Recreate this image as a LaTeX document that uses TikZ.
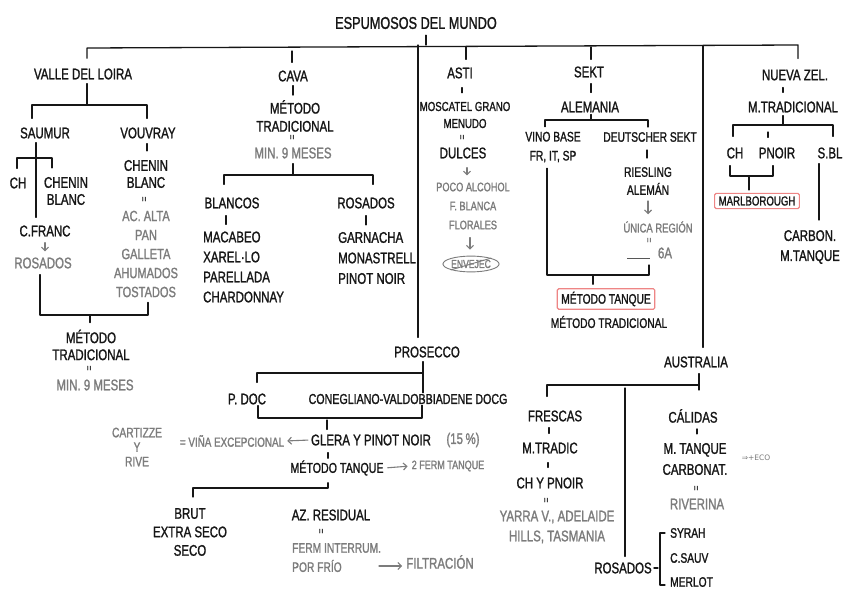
\documentclass[tikz,border=0pt]{standalone}
\usepackage{fontspec}
\usetikzlibrary{shapes.geometric,arrows.meta}
\newfontfamily\hand[FakeStretch=0.745,FakeBold=1.3]{Liberation Sans}
\newfontfamily\dvs{DejaVu Sans}
\newcommand\hfs[2]{\hand\fontsize{\fpeval{#1*1.1}}{#2}\selectfont}
\definecolor{ink}{HTML}{161616}
\definecolor{gtx}{HTML}{7C7C7C}
\definecolor{pinkred}{HTML}{EE8585}
\tikzset{
 t/.style={font=\hfs{14}{17}, text=ink, inner sep=1pt, align=center},
 g/.style={t, text=gtx},
 sm/.style={font=\hfs{12.5}{17}},
 ln/.style={draw=ink, line width=1.3pt, line cap=round, line join=round},
 garr/.style={draw=gtx, line width=1.1pt, line cap=round, -{Straight Barb[length=3.5pt,width=7pt]}, shorten <=6pt, shorten >=6pt},
 eqm/.style={font=\hfs{10}{11}, text=ink!85, rotate=90, inner sep=0pt},
 redbox/.style={draw=pinkred, line width=1.1pt, rounded corners=1.5pt, inner xsep=4pt, inner ysep=3pt},
}
\begin{document}
\begin{tikzpicture}[x=1pt,y=-1pt]
\fill[white] (0,0) rectangle (848,599);
\useasboundingbox (0,0) rectangle (848,599);

% ================= top =================
\node[t,font=\hfs{15.5}{17}] (title) at (416,23) {ESPUMOSOS DEL MUNDO};
\coordinate (tT) at (426,45);
\coordinate (bL) at (87,48);
\coordinate (bR) at (798,45);
\coordinate (bC) at (292,51);
\coordinate (bA) at (466,47);
\coordinate (bS) at (591,47);
\coordinate (bP) at (418,45);
\coordinate (bU) at (703,46);
\draw[ln,shorten <=5pt] (title.south -| tT) -- (tT);

\node[t] (loira) at (83,74) {VALLE DEL LOIRA};
\node[t] (cava) at (293,76) {CAVA};
\node[t] (asti) at (460,73) {ASTI};
\node[t] (sekt) at (589,72) {SEKT};
\node[t] (nz) at (795,75) {NUEVA ZEL.};

\draw[ln,shorten <=9pt,shorten >=10pt] (loira.north -| bL) -- (bL) -- (bR) -- (nz.north -| bR);
\draw[ln,shorten >=7pt] (bC) -- (cava.north -| bC);
\draw[ln,shorten >=7pt] (bA) -- (asti.north -| bA);
\draw[ln,shorten >=6pt] (bS) -- (sekt.north -| bS);

% ================= Valle del Loira =================
\node[t] (saumur) at (45,133) {SAUMUR};
\node[t] (vouvray) at (148,133) {VOUVRAY};
\coordinate (lj) at (87,105);
\coordinate (lsl) at (32,105);
\coordinate (lsr) at (147,105);
\draw[ln,shorten <=3pt] (loira.south -| lj) -- (lj);
\draw[ln,shorten <=8pt,shorten >=8pt] (saumur.north -| lsl) -- (lsl) -- (lsr) -- (vouvray.north -| lsr);

\node[t] (ch) at (18,183) {CH};
\node[t] (chb) at (66,191) {CHENIN\\BLANC};
\node[t] (cfr) at (45,231) {C.FRANC};
\node[g] (rosl) at (43,263) {ROSADOS};
\coordinate (sv) at (36,143);
\coordinate (cj1) at (17,158);
\coordinate (cj2) at (52,158);
\draw[ln,shorten <=3pt,shorten >=7pt] (saumur.south -| sv) -- (cfr.north -| sv);
\draw[ln,shorten <=8pt,shorten >=8pt] (ch.north -| cj1) -- (cj1) -- (cj2) -- (chb.north -| cj2);
\draw[garr,shorten <=5pt,shorten >=5pt] (cfr.south) -- (cfr.south |- rosl.north);

\node[t] (vchb) at (146,174) {CHENIN\\BLANC};
\draw[ln,shorten <=4pt,shorten >=8pt] (vouvray.south -| lsr) -- (vchb.north -| lsr);
\node[eqm] (veq) at (145,199) {=};
\node[g,font=\hfs{13.5}{19}] (vgr) at (146,254) {AC. ALTA\\PAN\\GALLETA\\AHUMADOS\\TOSTADOS};

\coordinate (lb1) at (40,315);
\coordinate (lb2) at (148,315);
\coordinate (lbm) at (90,315);
\draw[ln,shorten <=5pt,shorten >=4pt] (rosl.south -| lb1) -- (lb1) -- (lb2) -- (vgr.south -| lb2);
\node[t] (lmet) at (91,345) {MÉTODO\\TRADICIONAL};
\draw[ln,shorten >=6pt] (lbm) -- (lmet.north -| lbm);
\node[eqm] (leq) at (90,368) {=};
\node[g] (lmin) at (95,385) {MIN. 9 MESES};

% ================= Cava =================
\node[t,font=\hfs{14}{18}] (cmet) at (295,116) {MÉTODO\\TRADICIONAL};
\draw[ln,shorten <=3pt,shorten >=4pt] (cava.south) -- (cmet.north -| cava.south);
\node[eqm] (ceq) at (293,137) {=};
\node[g] (cmin) at (293,153) {MIN. 9 MESES};
\coordinate (cj) at (293,175);
\coordinate (cjl) at (224,175);
\coordinate (cjr) at (373,175);
\node[t] (blan) at (232,203) {BLANCOS};
\node[t] (rosc) at (366,203) {ROSADOS};
\draw[ln,shorten <=4pt] (cmin.south -| cj) -- (cj);
\draw[ln,shorten <=12pt,shorten >=12pt] (blan.north -| cjl) -- (cjl) -- (cjr) -- (rosc.north -| cjr);
\node[t,anchor=west,align=left,font=\hfs{14}{20}] (blist) at (202,267) {MACABEO\\XAREL·LO\\PARELLADA\\CHARDONNAY};
\node[t,anchor=west,align=left,font=\hfs{14}{20.5}] (rlist) at (337,258) {GARNACHA\\MONASTRELL\\PINOT NOIR};
\coordinate (blx) at (226,215);
\coordinate (rlx) at (366,215);
\draw[ln,shorten <=6pt,shorten >=6pt] (blan.south -| blx) -- (blist.north -| blx);
\draw[ln,shorten <=6pt,shorten >=6pt] (rosc.south -| rlx) -- (rlist.north -| rlx);

% ================= Asti =================
\node[t,font=\hfs{11.8}{17}] (mosc) at (465,115) {MOSCATEL GRANO\\MENUDO};
\coordinate (ax) at (462,90);
\draw[ln,shorten <=8pt,shorten >=8pt] (asti.south -| ax) -- (mosc.north -| ax);
\node[eqm] (aeq) at (463,137) {=};
\node[t] (dulc) at (463,153) {DULCES};
\node[g,font=\hfs{11.2}{19}] (agr) at (473,206) {POCO ALCOHOL\\F. BLANCA\\FLORALES};
\coordinate (ax2) at (467,170);
\draw[garr,shorten <=8pt,shorten >=6pt] (dulc.south -| ax2) -- (agr.north -| ax2);
\node[ellipse,draw=gtx,line width=0.9pt,text=gtx,font=\hfs{10.5}{11},inner xsep=0pt,inner ysep=1.5pt] (env) at (471,264) {ENVEJEC};
\draw[gtx,line width=0.9pt] (env.south west) -- (env.north east);
\coordinate (ax3) at (470,240);
\draw[garr,shorten <=7pt,shorten >=6pt] (agr.south -| ax3) -- (env.north -| ax3);

% ================= Sekt =================
\node[t] (alem) at (590,107) {ALEMANIA};
\coordinate (sx) at (591,90);
\draw[ln,shorten <=5pt,shorten >=8pt] (sekt.south -| sx) -- (alem.north -| sx);
\coordinate (sj) at (591,120);
\coordinate (sjl) at (545,120);
\coordinate (sjr) at (648,120);
\node[t,font=\hfs{12.5}{19}] (vino) at (553,147) {VINO BASE\\FR, IT, SP};
\node[t,sm] (deut) at (650,137) {DEUTSCHER SEKT};
\draw[ln,shorten <=1pt] (alem.south -| sj) -- (sj);
\draw[ln,shorten <=4pt,shorten >=4pt] (vino.north -| sjl) -- (sjl) -- (sjr) -- (deut.north -| sjr);
\node[t,font=\hfs{12.5}{18}] (ries) at (648,181) {RIESLING\\ALEMÁN};
\coordinate (dx) at (647,150);
\draw[ln,shorten <=7pt,shorten >=8pt] (deut.south -| dx) -- (ries.north -| dx);
\node[g,font=\hfs{11.5}{14}] (uni) at (658,227) {ÚNICA REGIÓN};
\draw[garr,shorten <=5pt,shorten >=6pt] (ries.south) -- (ries.south |- uni.north);
\node[eqm,text=gtx] (ueq) at (650,240) {=};
\coordinate (ul1) at (627,258);
\coordinate (ul2) at (650,258);
\draw[draw=gtx!70!black,line width=1pt] (ul1) -- (ul2);
\node[g] (sixa) at (665,253) {6A};
\coordinate (sb1) at (547,275);
\coordinate (sb2) at (649,275);
\coordinate (sbr) at (649,265);
\coordinate (sbm) at (593,275);
\draw[ln,shorten <=5pt] (vino.south -| sb1) -- (sb1) -- (sb2) -- (sbr);
\node[t,redbox,sm] (mtank) at (606,299) {MÉTODO TANQUE};
\draw[ln,shorten >=4pt] (sbm) -- (mtank.north -| sbm);
\node[t,sm] (mtrad) at (609,322) {MÉTODO TRADICIONAL};

% ================= Nueva Zelanda =================
\node[t] (nzm) at (793,107) {M.TRADICIONAL};
\coordinate (nzx) at (783,90);
\draw[ln,shorten <=6pt,shorten >=8pt] (nz.south -| nzx) -- (nzm.north -| nzx);
\coordinate (nj) at (783,125);
\coordinate (njl) at (733,125);
\coordinate (njr) at (833,125);
\node[t] (nch) at (735,153) {CH};
\node[t] (pnoir) at (777,153) {PNOIR};
\node[t] (nsb) at (830,153) {S.BL};
\draw[ln,shorten <=2pt] (nzm.south -| nj) -- (nj);
\draw[ln,shorten <=10pt,shorten >=10pt] (nch.north -| njl) -- (njl) -- (njr) -- (nsb.north -| njr);
\coordinate (nmt) at (768,132);
\draw[ln,shorten >=9pt] (nmt) -- (pnoir.north -| nmt);
\coordinate (nb1) at (730,176);
\coordinate (nb2) at (773,176);
\coordinate (nbm) at (749,176);
\draw[ln,shorten <=6pt,shorten >=6pt] (nch.south -| nb1) -- (nb1) -- (nb2) -- (pnoir.south -| nb2);
\node[t,redbox,font=\hfs{11.8}{14}] (marl) at (757,201) {MARLBOROUGH};
\draw[ln,shorten >=3pt] (nbm) -- (marl.north -| nbm);
\node[t,font=\hfs{14}{20}] (carb) at (810,247) {CARBON.\\M.TANQUE};
\coordinate (sbx) at (819,170);
\draw[ln,shorten <=4pt,shorten >=9pt] (nsb.south -| sbx) -- (carb.north -| sbx);

% ================= Prosecco =================
\node[t] (pros) at (427,352) {PROSECCO};
\draw[ln,shorten >=8pt] (bP) -- (pros.north -| bP);
\coordinate (pr1) at (423,373);
\coordinate (pl1) at (257,373);
\node[t] (pdoc) at (247,399) {P. DOC};
\node[t,font=\hfs{13}{15}] (docg) at (408,399) {CONEGLIANO-VALDOBBIADENE DOCG};
\draw[ln,shorten <=3pt] (pros.south -| pr1) -- (docg.north -| pr1);
\draw[ln,shorten >=10pt] (pr1) -- (pl1) -- (pdoc.north -| pl1);
\coordinate (pl2) at (258,418);
\coordinate (pr2) at (422,418);
\draw[ln] (pdoc.south -| pl2) -- (pl2) -- (pr2) -- (docg.south -| pr2);
\node[t] (glera) at (371,440) {GLERA Y PINOT NOIR};
\coordinate (pg) at (327,418);
\draw[ln,shorten <=2pt,shorten >=4pt] (pg) -- (glera.north -| pg);
\node[g] (pct) at (463,440) {(15\,\%)};
\node[g,font=\hfs{12}{14}] (vina) at (232,441) {= VIÑA EXCEPCIONAL};
\draw[garr,shorten <=2pt,shorten >=2pt] (glera.west) -- (vina.east);
\node[g,font=\hfs{12.5}{14.5}] (cart) at (137,447) {CARTIZZE\\Y\\RIVE};
\node[t,font=\hfs{13}{15}] (mtq) at (337,468) {MÉTODO TANQUE};
\coordinate (ptk) at (328,455);
\draw[ln,shorten <=6pt,shorten >=1pt] (glera.south -| ptk) -- (mtq.north -| ptk);
\node[g,font=\hfs{11}{13}] (fer2) at (448,466) {2 FERM TANQUE};
\draw[garr,shorten <=3pt,shorten >=3pt] (mtq.east) -- (fer2.west);
\coordinate (pb1) at (328,488);
\coordinate (pb2) at (193,488);
\node[t,font=\hfs{14}{18.5}] (brut) at (190,532) {BRUT\\EXTRA SECO\\SECO};
\draw[ln,shorten <=6pt,shorten >=10pt] (mtq.south -| pb1) -- (pb1) -- (pb2) -- (brut.north -| pb2);
\node[t] (azr) at (331,515) {AZ. RESIDUAL};
\node[eqm] (azeq) at (322,531) {=};
\node[g,anchor=west,font=\hfs{12.5}{14}] (ferm) at (291,548) {FERM INTERRUM.};
\node[g,anchor=west,font=\hfs{12.5}{14}] (por) at (291,566) {POR FRÍO};
\node[g] (filt) at (440,562) {FILTRACIÓN};
\draw[garr,shorten <=36pt,shorten >=3pt] (por.east) -- (por.east -| filt.west);

% ================= Australia =================
\node[t] (aus) at (696,362) {AUSTRALIA};
\draw[ln,shorten >=8pt] (bU) -- (aus.north -| bU);
\coordinate (au1) at (699,385);
\coordinate (au2) at (547,385);
\coordinate (au3) at (699,390);
\coordinate (auv) at (625,388);
\node[t] (fres) at (555,416) {FRESCAS};
\node[t] (rosa) at (623,568) {ROSADOS};
\draw[ln,shorten <=5pt] (aus.south -| au1) -- (au3);
\draw[ln,shorten >=13pt] (au1) -- (au2) -- (fres.north -| au2);
\draw[ln,shorten >=5pt] (auv) -- (rosa.north -| auv);
\node[t] (mtr) at (550,448) {M.TRADIC};
\node[t] (chyp) at (550,483) {CH Y PNOIR};
\coordinate (fx1) at (549,430);
\coordinate (fx2) at (548,465);
\draw[ln,shorten <=5pt,shorten >=8pt] (fres.south -| fx1) -- (mtr.north -| fx1);
\draw[ln,shorten <=8pt,shorten >=9pt] (mtr.south -| fx2) -- (chyp.north -| fx2);
\node[eqm] (feq) at (547,500) {=};
\node[g,font=\hfs{14}{20}] (yarra) at (557,527) {YARRA V., ADELAIDE\\HILLS, TASMANIA};
\node[t] (cal) at (693,416) {CÁLIDAS};
\node[t,font=\hfs{14}{21}] (mtc) at (695,459) {M. TANQUE\\CARBONAT.};
\coordinate (cx1) at (697,430);
\draw[ln,shorten <=5pt,shorten >=8pt] (cal.south -| cx1) -- (mtc.north -| cx1);
\node[g,font=\dvs\fontsize{7.5}{8}\selectfont] (eco) at (756,458) {⇒+ECO};
\node[eqm] (ceq2) at (697,488) {=};
\node[g] (riv) at (697,504) {RIVERINA};
\node[t,anchor=west,font=\hfs{12.5}{14}] (syr) at (669,533) {SYRAH};
\node[t,anchor=west,font=\hfs{12.5}{14}] (csv) at (669,558) {C.SAUV};
\node[t,anchor=west,font=\hfs{12.5}{14}] (mer) at (669,582) {MERLOT};
\coordinate (rb0) at (658,568);
\coordinate (rbt) at (660,533);
\coordinate (rbb) at (660,585);
\draw[ln,line width=1.1pt,shorten <=1pt] (rosa.east) -- (rb0);
\draw[ln,line width=1.1pt,shorten <=4pt,shorten >=4pt] (syr.west) -- (rbt) -- (rbb) -- (mer.west |- rbb);
\end{tikzpicture}
\end{document}
